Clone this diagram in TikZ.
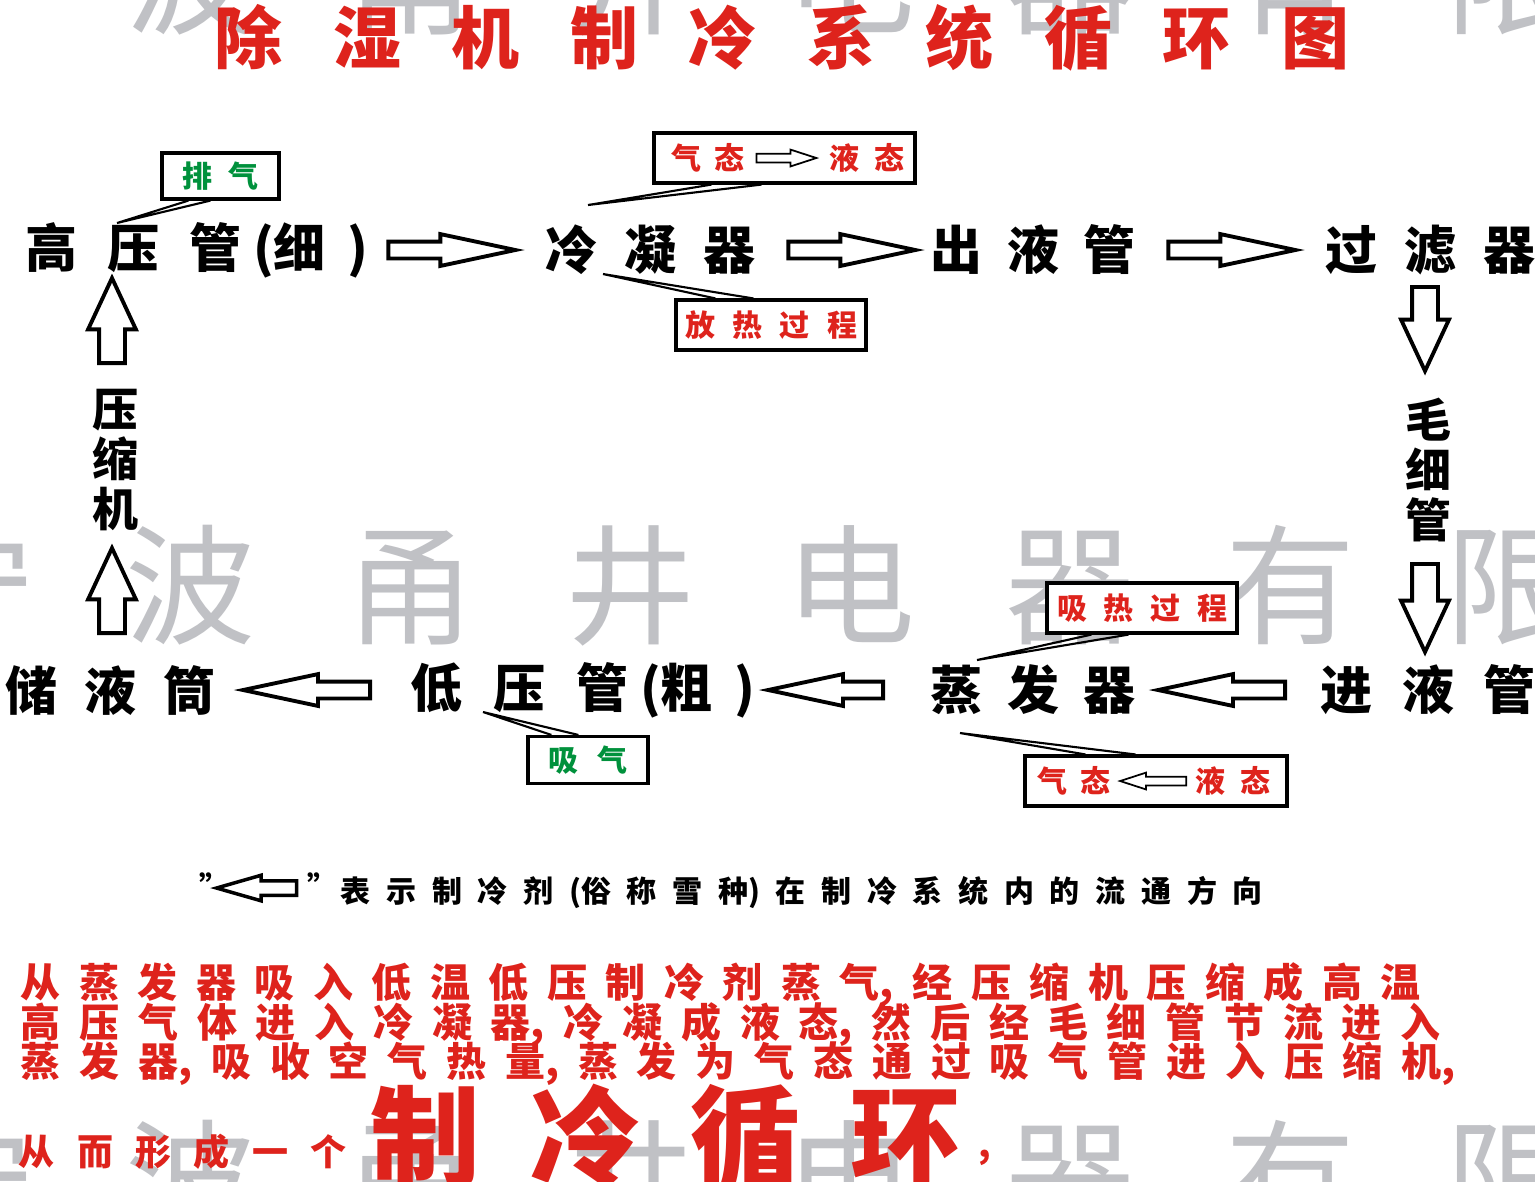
\documentclass[tikz,border=0pt]{standalone}
\usepackage{fontspec}
\setmainfont{Noto Sans CJK SC}
\usetikzlibrary{shapes.arrows,calc}
\definecolor{tred}{RGB}{222,35,28}
\definecolor{tgreen}{RGB}{0,145,60}
\definecolor{wmgray}{RGB}{192,193,197}
\newlength\px \setlength\px{0.1mm}
\newcommand\fs[1]{\fontsize{\fpeval{#1*0.28453}}{\fpeval{#1*0.31}}\selectfont}
\makeatletter
\newif\if@spns
\def\sp@end{\sp@end}
\newcommand\spread[2]{\makebox[#1][l]{\@spnstrue\sp@rest#2\sp@end}}
\def\sp@rest#1{%
  \ifx#1\sp@end\else
    \ifx#1,\else\ifx#1)\else\if@spns\else\hspace{\fill}\fi\fi\fi
    \ifx#1(\@spnstrue\else\@spnsfalse\fi
    #1%
    \expandafter\sp@rest
  \fi}
\makeatother
\tikzset{
  lbl/.style={inner sep=0pt, font=\fs{52}\bfseries},
  vlbl/.style={inner sep=0pt, font=\fs{46}\bfseries, align=center},
  barr/.style={single arrow, draw=black, fill=white, line width=1.1pt, inner xsep=0pt, inner ysep=6.5\px,
    single arrow head extend=7.5\px, single arrow tip angle=24, minimum height=#1, anchor=tail},
  barr/.default=125\px,
  varr/.style={single arrow, draw=black, fill=white, line width=1.1pt, inner xsep=0pt, inner ysep=11\px,
    single arrow head extend=11\px, single arrow tip angle=50, minimum height=#1, anchor=tail},
  varr/.default=85\px,
  sarr/.style={single arrow, draw=black, fill=white, line width=0.5pt, inner xsep=0pt, inner ysep=3.5\px,
    single arrow head extend=4\px, single arrow tip angle=36, minimum height=#1, anchor=tail},
  sarr/.default=62\px,
  cbox/.style={draw=black, fill=white, line width=0.9pt, inner sep=0pt},
  cptr/.style={draw=black, line width=0.6pt, line join=miter},
  ctxt/.style={inner sep=0pt, font=\fs{30}\bfseries},
  wmk/.style={inner sep=0pt, font=\fs{130}, text=wmgray},
}
\begin{document}
\begin{tikzpicture}[x=0.1mm, y=-0.1mm]
\useasboundingbox (0,0) rectangle (1535,1181);
\fill[white] (0,0) rectangle (1535,1181);
% watermark
\begin{scope}
\clip (0,0) rectangle (1535,1181);
\foreach \yy/\nm in {-25/wma,585/wmb,1180/wmc}
  \node[wmk, anchor=west] (\nm) at (-95,\yy) {\spread{1670\px}{宁波甬井电器有限}};
\end{scope}
% title
\node[inner sep=0pt, font=\fs{68}\bfseries, text=tred] (title) at (782,38) {\spread{1135\px}{除湿机制冷系统循环图}};
% main labels
\node[lbl, anchor=west] (hp) at (25,250) {\makebox[343\px][l]{高\hfill 压\hfill 管\hspace{12\px}(细\hspace{22\px})}};
\node[lbl, anchor=west] (cond) at (545,250) {\spread{210\px}{冷凝器}};
\node[lbl, anchor=west] (outp) at (930,250) {\spread{205\px}{出液管}};
\node[lbl, anchor=west] (filt) at (1325,250) {\spread{210\px}{过滤器}};
\node[vlbl] (capi) at (1428,470) {毛\\细\\管};
\node[lbl, anchor=west] (inp) at (1320,690) {\spread{215\px}{进液管}};
\node[lbl, anchor=west] (evap) at (930,690) {\spread{205\px}{蒸发器}};
\node[lbl, anchor=west] (lp) at (410,690) {\makebox[345\px][l]{低\hfill 压\hfill 管\hspace{12\px}(粗\hspace{22\px})}};
\node[lbl, anchor=west] (rec) at (5,690) {\spread{210\px}{储液筒}};
\node[vlbl] (comp) at (115,460) {压\\缩\\机};
% flow arrows (placed by their tails)
\node[barr=127\px] (a1) at ($(hp.east)+(17,0)$) {};
\node[barr=127\px] (a2) at ($(cond.east)+(30,0)$) {};
\node[barr=127\px] (a3) at ($(outp.east)+(30,0)$) {};
\node[varr=84\px, rotate=-90] (a4) at ($(capi.center)+(-3,-185)$) {};
\node[varr=88\px, rotate=-90] (a5) at ($(capi.center)+(-3,92)$) {};
\node[barr=127\px, rotate=180] (a6) at ($(inp.west)+(-33,0)$) {};
\node[barr=115\px, rotate=180] (a7) at ($(evap.west)+(-45,0)$) {};
\node[barr=127\px, rotate=180] (a8) at ($(lp.west)+(-38,0)$) {};
\node[varr=85\px, rotate=90] (a9) at ($(comp.center)+(-3,175)$) {};
\node[varr=85\px, rotate=90] (a10) at ($(comp.center)+(-3,-95)$) {};
% callouts
\node[cbox, minimum width=117\px, minimum height=46\px, text=tgreen, font=\fs{30}\bfseries] (c1) at (220.5,176) {\spread{77\px}{排气}};
\coordinate (t1) at (117,223);
\draw[cptr] ($(c1.south west)+(28,0)$) -- (t1) -- ($(c1.south west)+(50,0)$);

\node[cbox, minimum width=261\px, minimum height=50\px] (c2) at (784.5,158) {};
\node[sarr=60\px] (c2a) at ($(c2.center)+(-29,0)$) {};
\node[ctxt, text=tred, anchor=east] (c2l) at ($(c2a.tail)+(-10,0)$) {\spread{73\px}{气态}};
\node[ctxt, text=tred, anchor=west] (c2r) at ($(c2a.tip)+(10,0)$) {\spread{75\px}{液态}};
\coordinate (t2) at (588,205);
\draw[cptr] ($(c2.south west)+(59,0)$) -- (t2) -- ($(c2.south west)+(109,0)$);

\node[cbox, minimum width=190\px, minimum height=50\px, text=tred, font=\fs{30}\bfseries] (c3) at (771,325) {\spread{172\px}{放热过程}};
\coordinate (t3) at (603,274);
\draw[cptr] ($(c3.north west)+(41,0)$) -- (t3) -- ($(c3.north west)+(79,0)$);

\node[cbox, minimum width=190\px, minimum height=50\px, text=tred, font=\fs{30}\bfseries] (c4) at (1142,608) {\spread{170\px}{吸热过程}};
\coordinate (t4) at (977,660);
\draw[cptr] ($(c4.south west)+(46,0)$) -- (t4) -- ($(c4.south west)+(83,0)$);

\node[cbox, minimum width=262\px, minimum height=50\px] (c5) at (1156,781) {};
\node[sarr=66\px, rotate=180] (c5a) at ($(c5.center)+(31,0)$) {};
\node[ctxt, text=tred, anchor=east] (c5l) at ($(c5a.tip)+(-6,0)$) {\spread{73\px}{气态}};
\node[ctxt, text=tred, anchor=west] (c5r) at ($(c5a.tail)+(8,0)$) {\spread{75\px}{液态}};
\coordinate (t5) at (960,733);
\draw[cptr] ($(c5.north west)+(62,0)$) -- (t5) -- ($(c5.north west)+(112,0)$);

\node[cbox, minimum width=120\px, minimum height=47\px, text=tgreen, font=\fs{30}\bfseries] (c6) at (588,760) {\spread{80\px}{吸气}};
\coordinate (t6) at (483,712);
\draw[cptr] ($(c6.north west)+(25,0)$) -- (t6) -- ($(c6.north west)+(52,0)$);
% legend
\node[ctxt] (legq1) at (214,886) {”};
\node[ctxt] (legq2) at (322,886) {”};
\node[single arrow, draw=black, fill=white, line width=1pt, inner xsep=0pt, inner ysep=5.5\px,
  single arrow head extend=5.5\px, single arrow tip angle=32, minimum height=80\px, rotate=180, anchor=tail] (lega) at ($(legq2.west |- 0,888)+(-8,0)$) {};
\node[ctxt, anchor=west] (legt) at (340,892) {\spread{922\px}{表示制冷剂(俗称雪种)在制冷系统内的流通方向}};
% explanation
\node[inner sep=0pt, anchor=west, font=\fs{40}\bfseries, text=tred] (p1) at (20,985) {\spread{1400\px}{从蒸发器吸入低温低压制冷剂蒸气,经压缩机压缩成高温}};
\node[inner sep=0pt, anchor=west, font=\fs{40}\bfseries, text=tred] (p2) at (20,1025) {\spread{1420\px}{高压气体进入冷凝器,冷凝成液态,然后经毛细管节流进入}};
\node[inner sep=0pt, anchor=west, font=\fs{40}\bfseries, text=tred] (p3) at (20,1064) {\spread{1435\px}{蒸发器,吸收空气热量,蒸发为气态通过吸气管进入压缩机,}};
\node[inner sep=0pt, anchor=west, font=\fs{36}\bfseries, text=tred] (p4a) at (18,1152) {\spread{328\px}{从而形成一个}};
\node[inner sep=0pt, anchor=west, font=\fs{110}\bfseries, text=tred] (p4b) at (370,1137) {\spread{590\px}{制冷循环}};
\node[inner sep=0pt, font=\fs{36}\bfseries, text=tred] (p4c) at (985,1158) {,};
\end{tikzpicture}
\end{document}
